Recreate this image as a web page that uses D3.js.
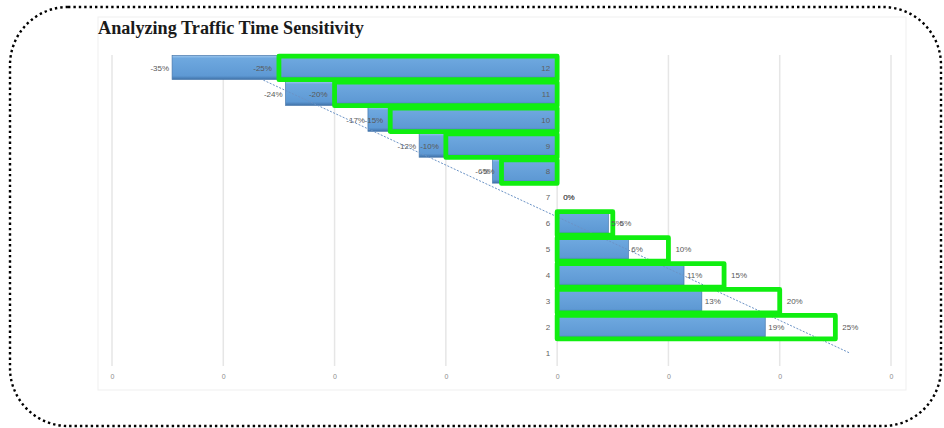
<!DOCTYPE html>
<html>
<head>
<meta charset="utf-8">
<script src="https://cdn.jsdelivr.net/npm/d3@7"></script>
<style>
  body { margin: 0; background: #fff; }
  svg { display: block; }
</style>
</head>
<body>
<svg id="chart"></svg>
<script>
// rows of the sensitivity chart, top to bottom is 12 -> 1
const rows = [12, 11, 10, 9, 8, 7, 6, 5, 4, 3, 2, 1];
// blue series (actual change, %)
const blueValues = [-34.6, -24.4, -17.0, -12.4, -5.8, 0, 4.6, 6.4, 11.4, 13.0, 18.7, null];
// green outlined series (time shift, %)
const greenValues = [-25, -20, -15, -10, -5, 0, 5, 10, 15, 20, 25, null];
// x axis ticks and the labels shown under them
const xTicks = [-40, -30, -20, -10, 0, 10, 20, 30];
const xTickLabels = ["0", "0", "0", "0", "0", "0", "0", "0"];
// dotted trend line, [value %, row]
const trendX = [-26.4, 26.3];
const trendRow = [11.53, 1.0];

const W = 944, H = 428;
const svg = d3.select('#chart').attr('width', W).attr('height', H);

const defs = svg.append('defs');
const grad = defs.append('linearGradient').attr('id', 'barGrad')
    .attr('x1', 0).attr('y1', 0).attr('x2', 0).attr('y2', 1);
grad.append('stop').attr('offset', '0%').attr('stop-color', '#a0c8ee');
grad.append('stop').attr('offset', '12%').attr('stop-color', '#6ea8df');
grad.append('stop').attr('offset', '85%').attr('stop-color', '#5e99d4');
grad.append('stop').attr('offset', '100%').attr('stop-color', '#4072a8');

// outer dotted rounded border
svg.append('rect')
    .attr('x', 10).attr('y', 7)
    .attr('width', 931).attr('height', 419)
    .attr('rx', 58).attr('ry', 58)
    .attr('fill', 'none')
    .attr('stroke', '#000')
    .attr('stroke-width', 2.4)
    .attr('stroke-dasharray', '2.4 3');

// faint chart frame
svg.append('rect')
    .attr('x', 98).attr('y', 17)
    .attr('width', 808).attr('height', 373)
    .attr('fill', 'none')
    .attr('stroke', '#efefef')
    .attr('stroke-width', 1);

svg.append('text')
    .attr('x', 98).attr('y', 34)
    .style('font-family', '"Liberation Serif", "Times New Roman", serif')
    .style('font-weight', 'bold')
    .style('font-size', '18.2px')
    .style('fill', '#1a1a1a')
    .text('Analyzing Traffic Time Sensitivity');

const xScale = d3.scaleLinear()
    .domain([-40, 30])
    .range([112, 891]);

const yScale = d3.scaleBand()
    .domain(rows)
    .range([55, 366]);

const yLin = d3.scaleLinear()
    .domain([0.5, 12.5])
    .range([366, 55]);

const rowMid = r => yScale(r) + yScale.bandwidth() / 2;

// gridlines
svg.append('g')
    .selectAll('line')
    .data(xTicks)
    .join('line')
    .attr('x1', d => xScale(d)).attr('x2', d => xScale(d))
    .attr('y1', 55).attr('y2', 366)
    .attr('stroke', '#e6e6e6')
    .attr('stroke-width', 1.5);

// x axis labels
const xAxis = d3.axisBottom(xScale)
    .tickValues(xTicks)
    .tickSize(0)
    .tickPadding(0)
    .tickFormat((d, i) => xTickLabels[i]);

const xg = svg.append('g')
    .attr('transform', 'translate(0, 374)')
    .call(xAxis);
xg.select('.domain').remove();
xg.selectAll('text')
    .style('font-family', '"Liberation Sans", Arial, sans-serif')
    .style('font-size', '7px')
    .style('fill', '#8c8c8c');

const data = rows.map((r, i) => ({ row: r, blue: blueValues[i], green: greenValues[i] }));
const withBars = data.filter(d => d.green !== null);
const sw = 4.8;
const greenH = 23.5;
const blueH = 24;

const boxes = withBars.filter(d => d.green !== 0);

// white inside of the green boxes
svg.append('g')
    .selectAll('rect')
    .data(boxes)
    .join('rect')
    .attr('x', d => Math.min(xScale(d.green), xScale(0)))
    .attr('y', d => rowMid(d.row) - greenH / 2)
    .attr('width', d => Math.abs(xScale(d.green) - xScale(0)))
    .attr('height', greenH)
    .attr('fill', '#fff');

// blue bars
svg.append('g')
    .selectAll('rect')
    .data(withBars.filter(d => d.blue !== 0))
    .join('rect')
    .attr('x', d => Math.min(xScale(d.blue), xScale(0)))
    .attr('y', d => rowMid(d.row) - blueH / 2 - 0.5)
    .attr('width', d => Math.abs(xScale(d.blue) - xScale(0)))
    .attr('height', blueH)
    .attr('fill', 'url(#barGrad)')
    .attr('stroke', '#4677ab')
    .attr('stroke-width', 0.7);

// trend line
const trend = d3.line()
    .x(d => xScale(d[0]))
    .y(d => yLin(d[1]));

svg.append('path')
    .datum(trendX.map((x, i) => [x, trendRow[i]]))
    .attr('d', trend)
    .attr('fill', 'none')
    .attr('stroke', '#6b93c6')
    .attr('stroke-width', 1)
    .attr('stroke-dasharray', '2 1.5');

// green outlines
svg.append('g')
    .selectAll('rect')
    .data(boxes)
    .join('rect')
    .attr('x', d => Math.min(xScale(d.green), xScale(0)))
    .attr('y', d => rowMid(d.row) - greenH / 2)
    .attr('width', d => Math.abs(xScale(d.green) - xScale(0)))
    .attr('height', greenH)
    .attr('fill', 'none')
    .attr('stroke', '#10ee10')
    .attr('stroke-width', sw)
    .attr('stroke-linejoin', 'round');

const labelFont = '"Liberation Sans", Arial, sans-serif';
const fmt = v => Math.round(v) + '%';

// row labels on the axis
svg.append('g')
    .selectAll('text')
    .data(rows)
    .join('text')
    .attr('x', xScale(0) - 7)
    .attr('y', d => rowMid(d))
    .attr('dy', '0.35em')
    .attr('text-anchor', 'end')
    .style('font-family', labelFont)
    .style('font-size', '8px')
    .style('fill', '#5f5f5f')
    .text(d => d);

// value labels, outside end of each bar
function valueLabels(key, gap) {
    svg.append('g')
        .selectAll('text')
        .data(withBars)
        .join('text')
        .attr('x', d => d[key] < 0 ? xScale(d[key]) - gap(d[key]) : xScale(d[key]) + gap(d[key]))
        .attr('y', d => rowMid(d.row))
        .attr('dy', '0.35em')
        .attr('text-anchor', d => d[key] < 0 ? 'end' : 'start')
        .style('font-family', labelFont)
        .style('font-size', '8px')
        .style('fill', '#595959')
        .text(d => fmt(d[key]));
}

valueLabels('blue', v => v === 0 ? 6 : 3);
valueLabels('green', v => v === 0 ? 6 : 7);
</script>
</body>
</html>
